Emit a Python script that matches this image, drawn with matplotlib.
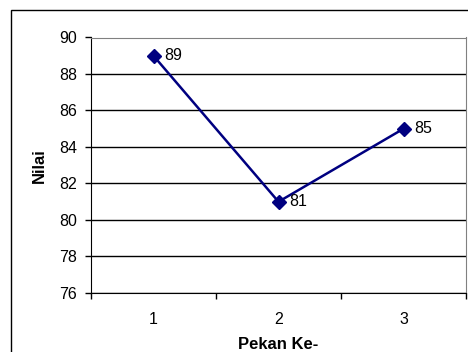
import matplotlib
matplotlib.use("Agg")
import matplotlib.pyplot as plt
from matplotlib.patches import Rectangle

plt.rcParams['font.family'] = ['Liberation Sans', 'DejaVu Sans']

weeks = ["1", "2", "3"]
scores = [89, 81, 85]
y_ticks = [76, 78, 80, 82, 84, 86, 88, 90]

W, H = 468, 352
fig = plt.figure(figsize=(W / 100, H / 100), dpi=100)

# outer chart frame (extends past the right and bottom edges)
fig.patches.append(Rectangle((11 / W, -0.1), 1.2, 1 - 9.5 / H + 0.1,
                             transform=fig.transFigure, fill=False,
                             edgecolor='black', linewidth=1.0))

left, right, top, bottom = 91, 466, 37.5, 293
ax = fig.add_axes([left / W, 1 - bottom / H, (right - left) / W, (bottom - top) / H])

x = list(range(len(weeks)))
ax.plot(x, scores, color='#000080', linewidth=1.8, marker='D', markersize=7,
        markerfacecolor='#000080', markeredgecolor='#000080', zorder=3)
for xi, v in zip(x, scores):
    ax.annotate(str(v), (xi, v), xytext=(8, 0), textcoords='offset points',
                va='center', ha='left', fontsize=11.5)

ax.set_xlim(-0.5, len(weeks) - 0.5)
ax.set_ylim(76, 90)
ax.set_yticks(y_ticks)
ax.set_yticklabels([str(t) for t in y_ticks], fontsize=11.5)
ax.set_xticks(x)
ax.set_xticklabels(weeks, fontsize=11.5)
ax.set_xticks([i - 0.5 for i in range(len(weeks) + 1)], minor=True)
ax.tick_params(axis='x', which='major', length=0, pad=14)
ax.tick_params(axis='x', which='minor', length=4, direction='out', width=1)
ax.tick_params(axis='y', length=4, direction='out', width=1, pad=6)

ax.grid(axis='y', color='black', linewidth=1.0)
ax.set_axisbelow(True)
for s in ['top', 'right']:
    ax.spines[s].set_color('#808080')
for s in ['left', 'bottom']:
    ax.spines[s].set_color('black')

ax.set_ylabel('Nilai', fontsize=12, fontweight='bold', labelpad=9)
ax.set_xlabel('Pekan Ke-', fontsize=12, fontweight='bold', labelpad=7)

fig.savefig('out.png', dpi=100)
